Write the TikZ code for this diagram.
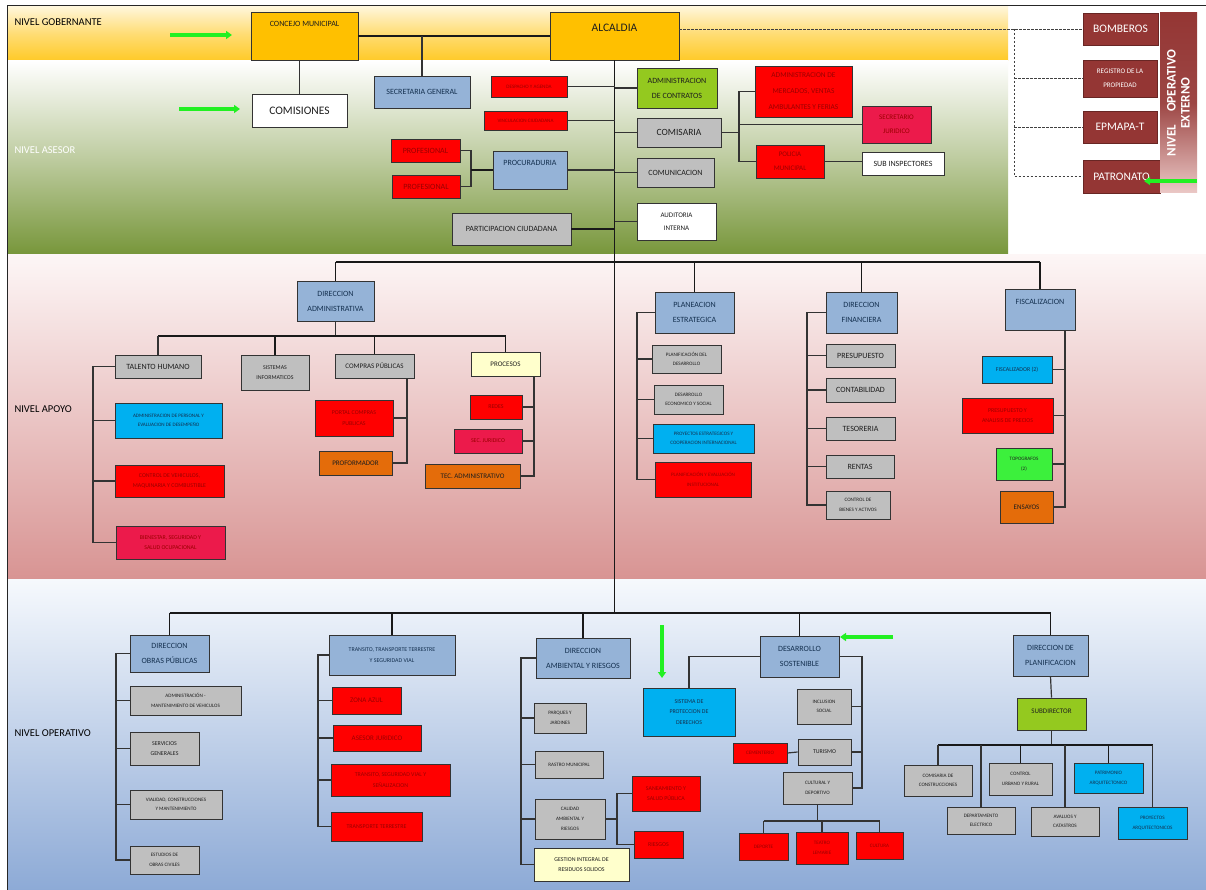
\documentclass[tikz,border=0pt]{standalone}
\usepackage{fontspec}
\setmainfont{Carlito}
\usetikzlibrary{arrows.meta}

\definecolor{cOro}{HTML}{FFC000}
\definecolor{cAzul}{HTML}{95B3D7}
\definecolor{cRojo}{HTML}{FF0000}
\definecolor{cCarmin}{HTML}{EC1A4B}
\definecolor{cGris}{HTML}{BFBFBF}
\definecolor{cCeleste}{HTML}{00B0F0}
\definecolor{cLima}{HTML}{94C91F}
\definecolor{cVerde}{HTML}{3CF03C}
\definecolor{cNaranja}{HTML}{E46C0A}
\definecolor{cCrema}{HTML}{FFFFCC}
\definecolor{cVino}{HTML}{943634}
\definecolor{cVinoClaro}{HTML}{EBC8C6}
\definecolor{tGris}{HTML}{1E1E1E}
\definecolor{tRojo}{HTML}{9A0000}
\definecolor{tAzul}{HTML}{14304F}
\definecolor{cFlecha}{HTML}{22F022}

\begin{document}
\begin{tikzpicture}[x=1pt,y=-1pt,
    box/.style={draw=black!80,line width=0.9pt,inner sep=1pt,align=center},
    sz/.style 2 args={minimum width=#1pt,minimum height=#2pt},
    tb/.style 2 args={inner ysep=0pt,text height=#1pt,text depth=#2pt},
    fxs/.style={font=\fontsize{5.1}{9.5}\selectfont},
    fs/.style={font=\fontsize{5.9}{10.5}\selectfont},
    fm/.style={font=\fontsize{7}{13.5}\selectfont},
    fn/.style={font=\fontsize{8}{15}\selectfont},
    fl/.style={font=\fontsize{9.5}{11}\selectfont},
    fxl/.style={font=\fontsize{11.5}{13}\selectfont},
    oro/.style={box,fill=cOro,text=tGris},
    azul/.style={box,fill=cAzul,text=tAzul},
    rojo/.style={box,fill=cRojo,text=tRojo},
    carmin/.style={box,fill=cCarmin,text=tRojo},
    gris/.style={box,fill=cGris,text=tGris},
    celeste/.style={box,fill=cCeleste,text=tAzul},
    lima/.style={box,fill=cLima,text=tGris},
    verde/.style={box,fill=cVerde,text=tGris},
    naranja/.style={box,fill=cNaranja,text=tGris},
    crema/.style={box,fill=cCrema,text=tGris},
    blanco/.style={box,fill=white,text=tGris},
    vino/.style={box,fill=cVino,text=white,draw=cVino!70!black},
    nivel/.style={anchor=west,font=\fontsize{10.5}{12}\selectfont},
    bus/.style={draw=black!90,line width=1.8pt},
    rama/.style={draw=black!80,line width=1.2pt},
    extlink/.style={draw=black!75,line width=0.8pt,dash pattern=on 2.5pt off 1.5pt},
    hint/.style={draw=cFlecha,line width=3.5pt,-{Triangle[length=6pt,width=8pt]}}
  ]

  \useasboundingbox (0,0) rectangle (1206,890);
  \fill[white] (0,0) rectangle (1206,890);
  \shade[top color=cOro!15,bottom color=cOro!85,middle color=cOro!55] (8,7) rectangle (1008,61);
  \shade[top color=white,bottom color={rgb,255:red,119;green,150;blue,58},middle color={rgb,255:red,190;green,204;blue,160}] (8,61) rectangle (1008,255);
  \shade[top color={rgb,255:red,253;green,246;blue,246},bottom color={rgb,255:red,216;green,148;blue,147}] (8,255) rectangle (1206,579);
  \shade[top color={rgb,255:red,246;green,249;blue,253},bottom color={rgb,255:red,141;green,170;blue,214}] (8,579) rectangle (1206,890);
  \draw[black!85,line width=1pt] (7,890) -- (7,6) -- (1206,6);

  \node[nivel] (lgob) at (11,22) {NIVEL GOBERNANTE};
  \node[nivel,text=white] (lase) at (11,150) {NIVEL ASESOR};
  \node[nivel] (lapo) at (11,409) {NIVEL APOYO};
  \node[nivel] (lope) at (11,733) {NIVEL OPERATIVO};

  \coordinate (apbus) at (614.5,262);
  \coordinate (admbus) at (0,336);
  \coordinate (opbus) at (614.5,613);
  \coordinate (ctbus) at (0,821);
  \coordinate (plbus) at (0,745);
  \coordinate (profx) at (471,0);
  \coordinate (comx) at (739,0);
  \coordinate (extx) at (1014,0);
  \coordinate (thx) at (93,0);
  \coordinate (cpx) at (407,0);
  \coordinate (prx) at (534,0);
  \coordinate (plx) at (637,0);
  \coordinate (dfx) at (807,0);
  \coordinate (fsx) at (1065,0);
  \coordinate (obx) at (116,0);
  \coordinate (trx) at (318,0);
  \coordinate (amx) at (521,0);
  \coordinate (cax) at (617,0);
  \coordinate (dsx) at (862,0);

  \node[oro,sz={107}{48},tb={15}{33},fn] (concejo) at (304.5,36) {CONCEJO MUNICIPAL};
  \node[oro,sz={129}{48},tb={20}{28},fxl] (alcaldia) at (614.5,36) {ALCALDIA};
  \node[blanco,sz={95}{33},fxl] (comisiones) at (299.5,110.5) {COMISIONES};
  \node[azul,sz={96}{32},fn] (secgen) at (422,92) {SECRETARIA GENERAL};
  \node[rojo,sz={76}{21},fxs] (despacho) at (529,86.5) {DESPACHO Y AGENDA};
  \node[rojo,sz={83}{19},fxs] (vinculacion) at (525.5,120.5) {VINCULACION CIUDADANA};
  \node[rojo,sz={69}{23},fn] (prof1) at (425.5,150.5) {PROFESIONAL};
  \node[rojo,sz={68}{23},fn] (prof2) at (426,186.5) {PROFESIONAL};
  \node[azul,sz={74}{38},tb={15}{23},fn] (procuraduria) at (530,170) {PROCURADURIA};
  \node[gris,sz={119}{32},fn] (participacion) at (511.5,229) {PARTICIPACION CIUDADANA};
  \node[lima,sz={80}{40},fn] (contratos) at (677,88) {ADMINISTRACION\\DE CONTRATOS};
  \node[gris,sz={84}{29},fl] (comisaria) at (679,132.5) {COMISARIA};
  \node[gris,sz={77}{29},fn] (comunicacion) at (675.5,172.5) {COMUNICACION};
  \node[blanco,sz={79}{37},fm] (auditoria) at (676.5,221.5) {AUDITORIA\\INTERNA};
  \node[rojo,sz={97}{51},font=\fontsize{7.4}{16}\selectfont] (mercados) at (803.5,91.5) {ADMINISTRACION DE\\MERCADOS, VENTAS\\AMBULANTES Y FERIAS};
  \node[carmin,sz={69}{37},fm] (secretario) at (896.5,124.5) {SECRETARIO\\JURIDICO};
  \node[rojo,sz={68}{33},fm] (policia) at (790,161.5) {POLICIA\\MUNICIPAL};
  \node[blanco,sz={82}{23},fn] (subinsp) at (903,163.5) {SUB INSPECTORES};

  \node[vino,sz={75}{32},fxl] (bomberos) at (1120.5,29) {BOMBEROS};
  \node[vino,sz={74}{37},fm] (registro) at (1120,78.5) {REGISTRO DE LA\\PROPIEDAD};
  \node[vino,sz={74}{32},fxl] (epmapa) at (1120,127) {EPMAPA-T};
  \node[vino,sz={77}{33},fxl] (patronato) at (1121.5,176.5) {PATRONATO};
  \node[rotate=90,sz={180}{37},inner sep=0pt,align=center,top color=cVino,bottom color=cVinoClaro,middle color=cVino!92!white,text=white,font=\fontsize{13}{14}\selectfont\bfseries] (externo) at (1178.5,103) {NIVEL\quad OPERATIVO\\EXTERNO};

  \node[azul,sz={77}{40},fn] (diradm) at (335.5,301) {DIRECCION\\ADMINISTRATIVA};
  \node[gris,sz={86}{23},fn] (talento) at (158,366.5) {TALENTO HUMANO};
  \node[gris,sz={68}{35},fs] (sistemas) at (275,372.5) {SISTEMAS\\INFORMATICOS};
  \node[gris,sz={79}{24},fm] (compras) at (374.5,366) {COMPRAS PÚBLICAS};
  \node[crema,sz={69}{24},fm] (procesos) at (505.5,364) {PROCESOS};
  \node[celeste,sz={107}{35},fxs] (personal) at (168.5,420.5) {ADMINISTRACION DE PERSONAL Y\\EVALUACION DE DESEMPEÑO};
  \node[rojo,sz={109}{32},fs] (vehiculos) at (169.5,481) {CONTROL DE VEHICULOS,\\MAQUINARIA Y COMBUSTIBLE};
  \node[carmin,sz={109}{33},fs] (bienestar) at (170.5,542.5) {BIENESTAR, SEGURIDAD Y\\SALUD OCUPACIONAL};
  \node[rojo,sz={78}{36},fs] (portal) at (354,418) {PORTAL COMPRAS\\PUBLICAS};
  \node[naranja,sz={73}{24},fm] (proformador) at (355.5,463) {PROFORMADOR};
  \node[rojo,sz={52}{24},fs] (redes) at (496,407) {REDES};
  \node[carmin,sz={68}{24},fs] (secjur) at (488,441) {SEC. JURIDICO};
  \node[naranja,sz={95}{24},fm] (tecadm) at (472.5,476) {TEC. ADMINISTRATIVO};
  \node[azul,sz={79}{41},fn] (planeacion) at (694.5,312.5) {PLANEACION\\ESTRATEGICA};
  \node[gris,sz={69}{28},fxs] (planif) at (686.5,359) {PLANIFICACIÓN DEL\\DESARROLLO};
  \node[gris,sz={69}{29},fxs] (economico) at (688.5,399.5) {DESARROLLO\\ECONOMICO Y SOCIAL};
  \node[celeste,sz={101}{29},fxs] (estrategicos) at (703.5,438.5) {PROYECTOS ESTRATEGICOS Y\\COOPERACION INTERNACIONAL};
  \node[rojo,sz={96}{35},fxs] (institucional) at (703,479.5) {PLANIFICACIÓN Y EVALUACIÓN\\INSTITUCIONAL};
  \node[azul,sz={71}{41},fn] (dirfin) at (861.5,312.5) {DIRECCION\\FINANCIERA};
  \node[gris,sz={69}{23},fn] (presupuesto) at (860.5,355.5) {PRESUPUESTO};
  \node[gris,sz={69}{24},fn] (contabilidad) at (860.5,390) {CONTABILIDAD};
  \node[gris,sz={69}{23},fn] (tesoreria) at (860.5,428.5) {TESORERIA};
  \node[gris,sz={68}{23},fn] (rentas) at (860,466.5) {RENTAS};
  \node[gris,sz={64}{28},fxs] (bienes) at (858,505) {CONTROL DE\\BIENES Y ACTIVOS};
  \node[azul,sz={70}{41},tb={16}{25},fn] (fiscalizacion) at (1040,309.5) {FISCALIZACION};
  \node[celeste,sz={70}{27},fs] (fiscalizador) at (1017,369.5) {FISCALIZADOR (2)};
  \node[rojo,sz={91}{35},fs] (precios) at (1007.5,415.5) {PRESUPUESTO Y\\ANALISIS DE PRECIOS};
  \node[verde,sz={56}{32},fxs] (topografos) at (1024,464) {TOPOGRAFOS\\(2)};
  \node[naranja,sz={53}{32},fm] (ensayos) at (1026.5,507) {ENSAYOS};

  \node[azul,sz={79}{37},fn] (obras) at (169.5,653.5) {DIRECCION\\OBRAS PÚBLICAS};
  \node[gris,sz={111}{29},fxs] (mantenimiento) at (185.5,700.5) {ADMINISTRACIÓN -\\MANTENIMIENTO DE VEHICULOS};
  \node[gris,sz={69}{33},fs] (servicios) at (164.5,748.5) {SERVICIOS\\GENERALES};
  \node[gris,sz={92}{29},fxs] (vialidad) at (176,804.5) {VIALIDAD, CONSTRUCCIONES\\Y MANTENIMIENTO};
  \node[gris,sz={69}{28},fxs] (estudios) at (164.5,860) {ESTUDIOS DE\\OBRAS CIVILES};
  \node[azul,sz={126}{40},fs] (transito) at (392,655) {TRANSITO, TRANSPORTE TERRESTRE\\Y SEGURIDAD VIAL};
  \node[rojo,sz={69}{27},fm] (zona) at (366.5,700.5) {ZONA AZUL};
  \node[rojo,sz={88}{26},fm] (asesor) at (377,738) {ASESOR JURIDICO};
  \node[rojo,sz={119}{32},fs] (senalizacion) at (390.5,780) {TRANSITO, SEGURIDAD VIAL Y\\SEÑALIZACION};
  \node[rojo,sz={91}{29},fs] (terrestre) at (376.5,826.5) {TRANSPORTE TERRESTRE};
  \node[azul,sz={94}{40},fn] (ambiental) at (583,658) {DIRECCION\\AMBIENTAL Y RIESGOS};
  \node[gris,sz={52}{30},fxs] (parques) at (560,718) {PARQUES Y\\JARDINES};
  \node[gris,sz={68}{27},fxs] (rastro) at (569,764.5) {RASTRO MUNICIPAL};
  \node[gris,sz={70}{40},font=\fontsize{5.1}{10}\selectfont] (calidad) at (570,819) {CALIDAD\\AMBIENTAL Y\\RIESGOS};
  \node[crema,sz={95}{33},fs] (residuos) at (581.5,864.5) {GESTION INTEGRAL DE\\RESIDUOS SOLIDOS};
  \node[rojo,sz={68}{35},fs] (saneamiento) at (666,793.5) {SANEAMIENTO Y\\SALUD PÚBLICA};
  \node[rojo,sz={49}{27},fs] (riesgos) at (658.5,844.5) {RIESGOS};
  \node[celeste,sz={92}{48},fs] (proteccion) at (689,712) {SISTEMA DE\\PROTECCION DE\\DERECHOS};
  \node[azul,sz={79}{41},fn] (sostenible) at (799.5,656.5) {DESARROLLO\\SOSTENIBLE};
  \node[gris,sz={54}{35},fxs] (inclusion) at (824,706.5) {INCLUSION\\SOCIAL};
  \node[gris,sz={53}{26},fs] (turismo) at (824.5,752) {TURISMO};
  \node[rojo,sz={54}{20},fxs] (cementerio) at (760,753) {CEMENTERIO};
  \node[gris,sz={69}{32},fxs] (cultural) at (817.5,788) {CULTURAL Y\\DEPORTIVO};
  \node[rojo,sz={49}{27},fxs] (deporte) at (763.5,846.5) {DEPORTE};
  \node[rojo,sz={52}{32},fxs] (teatro) at (822,848) {TEATRO\\LEMARIE};
  \node[rojo,sz={47}{27},fxs] (cultura) at (879.5,845.5) {CULTURA};
  \node[azul,sz={75}{41},fn] (dirplan) at (1050.5,655.5) {DIRECCION DE\\PLANIFICACION};
  \node[lima,sz={69}{32},tb={15}{17},fm] (subdirector) at (1051.5,714) {SUBDIRECTOR};
  \node[gris,sz={68}{31},fxs] (construcciones) at (938,780.5) {COMISARIA DE\\CONSTRUCCIONES};
  \node[gris,sz={68}{27},fxs] (electrico) at (981,820.5) {DEPARTAMENTO\\ELECTRICO};
  \node[gris,sz={63}{32},fxs] (urbano) at (1020.5,779) {CONTROL\\URBANO Y RURAL};
  \node[gris,sz={68}{29},fxs] (avaluos) at (1065,821.5) {AVALUOS Y\\CATASTROS};
  \node[celeste,sz={69}{30},fxs] (patrimonio) at (1108.5,778) {PATRIMONIO\\ARQUITECTONICO};
  \node[celeste,sz={69}{32},fxs] (arquitectonicos) at (1152.5,823) {PROYECTOS\\ARQUITECTONICOS};

  \draw[bus] (concejo.east) -- (alcaldia.west);
  \draw[rama] (secgen.north) -- (secgen.north |- concejo.east);
  \draw[rama] (comisiones.north) -- (comisiones.north |- concejo.south);
  \draw[bus] (alcaldia.south) -- (alcaldia.south |- opbus);
  \draw[rama] (despacho.east) -- (despacho.east -| alcaldia.south);
  \draw[rama] (vinculacion.east) -- (vinculacion.east -| alcaldia.south);
  \draw[rama] (procuraduria.east) -- (procuraduria.east -| alcaldia.south);
  \draw[bus] (participacion.east) -- (participacion.east -| alcaldia.south);
  \draw[rama] (prof1.east) -- (prof1.east -| profx) -- (prof2.east -| profx) -- (prof2.east);
  \draw[bus] (procuraduria.west) -- (procuraduria.west -| profx);
  \draw[rama] (contratos.west) -- (contratos.west -| alcaldia.south);
  \draw[rama] (comisaria.west) -- (comisaria.west -| alcaldia.south);
  \draw[rama] (comunicacion.west) -- (comunicacion.west -| alcaldia.south);
  \draw[rama] (auditoria.west) -- (auditoria.west -| alcaldia.south);
  \draw[rama] (comisaria.east) -- (comisaria.east -| comx);
  \draw[rama] (mercados.west) -- (mercados.west -| comx) -- (policia.west -| comx) -- (policia.west);
  \draw[rama] (secretario.west) -- (secretario.west -| comx);
  \draw[rama] (policia.east) -- (policia.east -| subinsp.west);

  \draw[extlink] (alcaldia.east |- bomberos.west) -- (bomberos.west);
  \draw[extlink] (bomberos.west -| extx) -- (patronato.west -| extx) -- (patronato.west);
  \draw[extlink] (registro.west -| extx) -- (registro.west);
  \draw[extlink] (epmapa.west -| extx) -- (epmapa.west);

  \draw[bus] (diradm.north |- apbus) -- (fiscalizacion.north |- apbus);
  \draw[bus] (diradm.north) -- (diradm.north |- apbus);
  \draw[bus] (planeacion.north) -- (planeacion.north |- apbus);
  \draw[bus] (dirfin.north) -- (dirfin.north |- apbus);
  \draw[bus] (fiscalizacion.north) -- (fiscalizacion.north |- apbus);
  \draw[rama] (diradm.south) -- (diradm.south |- admbus);
  \draw[bus] (talento.north |- admbus) -- (procesos.north |- admbus);
  \draw[rama] (talento.north) -- (talento.north |- admbus);
  \draw[bus] (sistemas.north) -- (sistemas.north |- admbus);
  \draw[bus] (compras.north) -- (compras.north |- admbus);
  \draw[bus] (procesos.north) -- (procesos.north |- admbus);
  \draw[rama] (talento.west) -- (talento.west -| thx) -- (bienestar.west -| thx) -- (bienestar.west);
  \draw[rama] (personal.west) -- (personal.west -| thx);
  \draw[rama] (vehiculos.west) -- (vehiculos.west -| thx);
  \draw[rama] (compras.south -| cpx) -- (proformador.east -| cpx) -- (proformador.east);
  \draw[rama] (portal.east) -- (portal.east -| cpx);
  \draw[rama] (procesos.south -| prx) -- (tecadm.east -| prx) -- (tecadm.east);
  \draw[rama] (redes.east) -- (redes.east -| prx);
  \draw[rama] (secjur.east) -- (secjur.east -| prx);
  \draw[rama] (planeacion.west) -- (planeacion.west -| plx) -- (institucional.west -| plx) -- (institucional.west);
  \draw[rama] (planif.west) -- (planif.west -| plx);
  \draw[rama] (economico.west) -- (economico.west -| plx);
  \draw[rama] (estrategicos.west) -- (estrategicos.west -| plx);
  \draw[rama] (dirfin.west) -- (dirfin.west -| dfx) -- (bienes.west -| dfx) -- (bienes.west);
  \draw[rama] (presupuesto.west) -- (presupuesto.west -| dfx);
  \draw[rama] (contabilidad.west) -- (contabilidad.west -| dfx);
  \draw[rama] (tesoreria.west) -- (tesoreria.west -| dfx);
  \draw[rama] (rentas.west) -- (rentas.west -| dfx);
  \draw[rama] (fiscalizacion.south -| fsx) -- (ensayos.east -| fsx) -- (ensayos.east);
  \draw[rama] (fiscalizador.east) -- (fiscalizador.east -| fsx);
  \draw[rama] (precios.east) -- (precios.east -| fsx);
  \draw[rama] (topografos.east) -- (topografos.east -| fsx);

  \draw[bus] (obras.north |- opbus) -- (dirplan.north |- opbus);
  \draw[bus] (obras.north) -- (obras.north |- opbus);
  \draw[bus] (transito.north) -- (transito.north |- opbus);
  \draw[bus] (ambiental.north) -- (ambiental.north |- opbus);
  \draw[bus] (sostenible.north) -- (sostenible.north |- opbus);
  \draw[bus] (dirplan.north) -- (dirplan.north |- opbus);
  \draw[rama] (obras.west) -- (obras.west -| obx) -- (estudios.west -| obx) -- (estudios.west);
  \draw[rama] (mantenimiento.west) -- (mantenimiento.west -| obx);
  \draw[rama] (servicios.west) -- (servicios.west -| obx);
  \draw[rama] (vialidad.west) -- (vialidad.west -| obx);
  \draw[rama] (transito.west) -- (transito.west -| trx) -- (terrestre.west -| trx) -- (terrestre.west);
  \draw[rama] (zona.west) -- (zona.west -| trx);
  \draw[rama] (asesor.west) -- (asesor.west -| trx);
  \draw[rama] (senalizacion.west) -- (senalizacion.west -| trx);
  \draw[rama] (ambiental.west) -- (ambiental.west -| amx) -- (residuos.west -| amx) -- (residuos.west);
  \draw[rama] (parques.west) -- (parques.west -| amx);
  \draw[rama] (rastro.west) -- (rastro.west -| amx);
  \draw[rama] (calidad.west) -- (calidad.west -| amx);
  \draw[rama] (calidad.east) -- (calidad.east -| cax);
  \draw[rama] (saneamiento.west) -- (saneamiento.west -| cax) -- (riesgos.west -| cax) -- (riesgos.west);
  \draw[rama] (sostenible.west) -| (proteccion.north);
  \draw[rama] (sostenible.east) -- (sostenible.east -| dsx) -- (cultural.east -| dsx) -- (cultural.east);
  \draw[rama] (inclusion.east) -- (inclusion.east -| dsx);
  \draw[rama] (turismo.east) -- (turismo.east -| dsx);
  \draw[rama] (cementerio.east) -- (turismo.west);
  \draw[rama] (cultural.south) -- (cultural.south |- ctbus);
  \draw[rama] (deporte.north |- ctbus) -- (cultura.north |- ctbus);
  \draw[rama] (deporte.north) -- (deporte.north |- ctbus);
  \draw[rama] (teatro.north) -- (teatro.north |- ctbus);
  \draw[rama] (cultura.north) -- (cultura.north |- ctbus);
  \draw[rama] (dirplan.south) -- (subdirector.north);
  \draw[rama] (subdirector.south) -- (subdirector.south |- plbus);
  \draw[bus] (construcciones.north |- plbus) -- (arquitectonicos.north |- plbus);
  \draw[rama] (construcciones.north) -- (construcciones.north |- plbus);
  \draw[rama] (electrico.north) -- (electrico.north |- plbus);
  \draw[bus] (urbano.north) -- (urbano.north |- plbus);
  \draw[rama] (avaluos.north) -- (avaluos.north |- plbus);
  \draw[bus] (patrimonio.north) -- (patrimonio.north |- plbus);
  \draw[rama] (arquitectonicos.north) -- (arquitectonicos.north |- plbus);

  \coordinate (h1a) at (170,35);
  \coordinate (h1b) at (232,35);
  \coordinate (h2a) at (179,109);
  \coordinate (h2b) at (240,109);
  \coordinate (h3a) at (1197,181);
  \coordinate (h3b) at (1144,181);
  \coordinate (h4a) at (662,625);
  \coordinate (h4b) at (662,678);
  \coordinate (h5a) at (893,637);
  \coordinate (h5b) at (840,637);
  \draw[hint] (h1a) -- (h1b);
  \draw[hint] (h2a) -- (h2b);
  \draw[hint] (h3a) -- (h3b);
  \draw[hint] (h4a) -- (h4b);
  \draw[hint] (h5a) -- (h5b);

\end{tikzpicture}
\end{document}
